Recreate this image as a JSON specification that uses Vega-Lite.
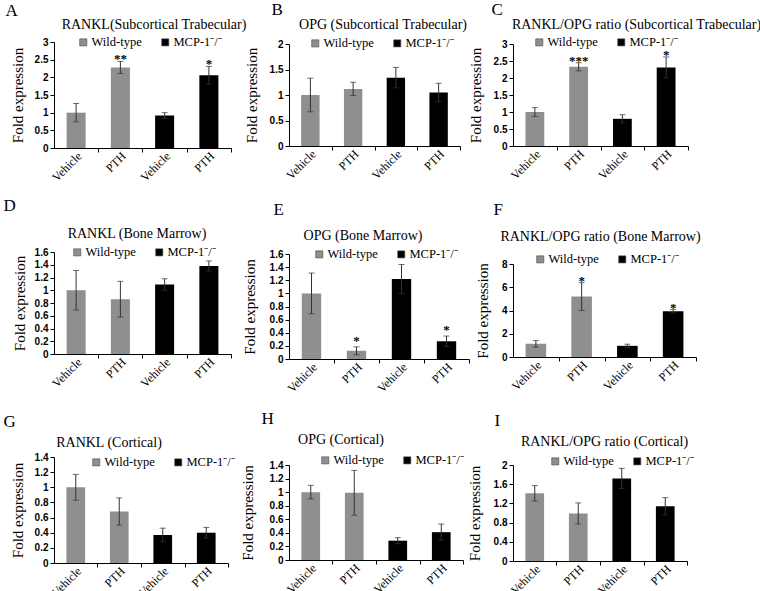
{
  "$schema": "https://vega.github.io/schema/vega-lite/v6.json",
  "padding": {"left": 3, "top": 0, "right": 0, "bottom": 0},
  "background": "white",
  "datasets": {
    "d": [
      {"p": "A", "k": "WT Vehicle", "g": "Wild-type", "v": 1.0, "lo": 0.74, "hi": 1.26, "s": ""},
      {"p": "A", "k": "WT PTH", "g": "Wild-type", "v": 2.28, "lo": 2.11, "hi": 2.45, "s": "**"},
      {"p": "A", "k": "KO Vehicle", "g": "MCP-1\u207b/\u207b", "v": 0.92, "lo": 0.84, "hi": 1.0, "s": ""},
      {"p": "A", "k": "KO PTH", "g": "MCP-1\u207b/\u207b", "v": 2.06, "lo": 1.81, "hi": 2.31, "s": "*"},
      {"p": "B", "k": "WT Vehicle", "g": "Wild-type", "v": 1.0, "lo": 0.67, "hi": 1.33, "s": ""},
      {"p": "B", "k": "WT PTH", "g": "Wild-type", "v": 1.12, "lo": 0.99, "hi": 1.25, "s": ""},
      {"p": "B", "k": "KO Vehicle", "g": "MCP-1\u207b/\u207b", "v": 1.34, "lo": 1.14, "hi": 1.54, "s": ""},
      {"p": "B", "k": "KO PTH", "g": "MCP-1\u207b/\u207b", "v": 1.05, "lo": 0.87, "hi": 1.23, "s": ""},
      {"p": "C", "k": "WT Vehicle", "g": "Wild-type", "v": 1.0, "lo": 0.87, "hi": 1.13, "s": ""},
      {"p": "C", "k": "WT PTH", "g": "Wild-type", "v": 2.33, "lo": 2.21, "hi": 2.45, "s": "***"},
      {"p": "C", "k": "KO Vehicle", "g": "MCP-1\u207b/\u207b", "v": 0.8, "lo": 0.68, "hi": 0.92, "s": ""},
      {"p": "C", "k": "KO PTH", "g": "MCP-1\u207b/\u207b", "v": 2.31, "lo": 2.0, "hi": 2.62, "s": "*"},
      {"p": "D", "k": "WT Vehicle", "g": "Wild-type", "v": 1.0, "lo": 0.69, "hi": 1.31, "s": ""},
      {"p": "D", "k": "WT PTH", "g": "Wild-type", "v": 0.86, "lo": 0.58, "hi": 1.14, "s": ""},
      {"p": "D", "k": "KO Vehicle", "g": "MCP-1\u207b/\u207b", "v": 1.09, "lo": 1.0, "hi": 1.18, "s": ""},
      {"p": "D", "k": "KO PTH", "g": "MCP-1\u207b/\u207b", "v": 1.38, "lo": 1.3, "hi": 1.46, "s": ""},
      {"p": "E", "k": "WT Vehicle", "g": "Wild-type", "v": 1.0, "lo": 0.69, "hi": 1.31, "s": ""},
      {"p": "E", "k": "WT PTH", "g": "Wild-type", "v": 0.125, "lo": 0.065, "hi": 0.185, "s": "*"},
      {"p": "E", "k": "KO Vehicle", "g": "MCP-1\u207b/\u207b", "v": 1.22, "lo": 1.0, "hi": 1.44, "s": ""},
      {"p": "E", "k": "KO PTH", "g": "MCP-1\u207b/\u207b", "v": 0.27, "lo": 0.19, "hi": 0.35, "s": "*"},
      {"p": "F", "k": "WT Vehicle", "g": "Wild-type", "v": 1.13, "lo": 0.85, "hi": 1.41, "s": ""},
      {"p": "F", "k": "WT PTH", "g": "Wild-type", "v": 5.2, "lo": 4.0, "hi": 6.4, "s": "*"},
      {"p": "F", "k": "KO Vehicle", "g": "MCP-1\u207b/\u207b", "v": 0.96, "lo": 0.82, "hi": 1.1, "s": ""},
      {"p": "F", "k": "KO PTH", "g": "MCP-1\u207b/\u207b", "v": 3.93, "lo": 3.78, "hi": 4.08, "s": "*"},
      {"p": "G", "k": "WT Vehicle", "g": "Wild-type", "v": 1.0, "lo": 0.83, "hi": 1.17, "s": ""},
      {"p": "G", "k": "WT PTH", "g": "Wild-type", "v": 0.68, "lo": 0.5, "hi": 0.86, "s": ""},
      {"p": "G", "k": "KO Vehicle", "g": "MCP-1\u207b/\u207b", "v": 0.37, "lo": 0.28, "hi": 0.46, "s": ""},
      {"p": "G", "k": "KO PTH", "g": "MCP-1\u207b/\u207b", "v": 0.4, "lo": 0.33, "hi": 0.47, "s": ""},
      {"p": "H", "k": "WT Vehicle", "g": "Wild-type", "v": 1.0, "lo": 0.9, "hi": 1.1, "s": ""},
      {"p": "H", "k": "WT PTH", "g": "Wild-type", "v": 0.99, "lo": 0.66, "hi": 1.32, "s": ""},
      {"p": "H", "k": "KO Vehicle", "g": "MCP-1\u207b/\u207b", "v": 0.285, "lo": 0.24, "hi": 0.33, "s": ""},
      {"p": "H", "k": "KO PTH", "g": "MCP-1\u207b/\u207b", "v": 0.41, "lo": 0.29, "hi": 0.53, "s": ""},
      {"p": "I", "k": "WT Vehicle", "g": "Wild-type", "v": 1.41, "lo": 1.25, "hi": 1.57, "s": ""},
      {"p": "I", "k": "WT PTH", "g": "Wild-type", "v": 0.99, "lo": 0.77, "hi": 1.21, "s": ""},
      {"p": "I", "k": "KO Vehicle", "g": "MCP-1\u207b/\u207b", "v": 1.72, "lo": 1.51, "hi": 1.93, "s": ""},
      {"p": "I", "k": "KO PTH", "g": "MCP-1\u207b/\u207b", "v": 1.14, "lo": 0.96, "hi": 1.32, "s": ""}
    ]
  },
  "data": {"name": "d"},
  "columns": 3,
  "spacing": {"row": 0, "column": 0},
  "bounds": "flush",
  "align": "none",
  "concat": [
    {
      "width": 234, "height": 148,
      "transform": [{"filter": "datum.p == 'A'"}],
      "layer": [
        {"mark": "bar", "encoding": {
          "x": {"field": "k", "type": "nominal", "sort": null, "scale": {"domain": ["WT Vehicle", "WT PTH", "KO Vehicle", "KO PTH"], "range": [0, 177], "paddingInner": 0.57, "paddingOuter": 0.285}, "axis": {"orient": "bottom", "title": null, "ticks": false, "domain": true, "domainColor": "#000000", "domainWidth": 1, "zindex": 2, "labelExpr": "indexof(datum.label, 'PTH') >= 0 ? 'PTH' : 'Vehicle'"}},
          "y": {"field": "v", "type": "quantitative", "scale": {"domain": [0, 3], "range": [148, 42], "nice": false, "zero": true}, "axis": {"values": [0, 0.5, 1, 1.5, 2, 2.5, 3], "tickCount": 20, "format": "~g", "labelOverlap": false, "domain": true, "ticks": true, "domainColor": "#000000", "tickColor": "#000000", "domainWidth": 1, "tickWidth": 1, "zindex": 2, "title": "Fold expression", "titleX": -29}},
          "color": {"field": "g", "type": "nominal", "scale": {"domain": ["Wild-type", "MCP-1\u207b/\u207b"], "range": ["#8f8f8f", "#000000"]}, "legend": {"title": null, "legendX": 23, "legendY": 36}}}},
        {"mark": {"type": "rule", "color": "#333333"}, "encoding": {
          "x": {"field": "k", "type": "nominal", "sort": null, "axis": {"orient": "top", "labels": false, "ticks": false, "domain": false, "title": "RANKL(Subcortical Trabecular)", "titleX": 99.5, "titleY": 24, "titleAlign": "center", "titleBaseline": "middle", "titleFontSize": 14, "titleLimit": 1000}},
          "y": {"field": "lo", "type": "quantitative"},
          "y2": {"field": "hi"}}},
        {"mark": {"type": "tick", "color": "#333333", "size": 6, "thickness": 1, "orient": "horizontal"}, "encoding": {
          "x": {"field": "k", "type": "nominal", "sort": null, "axis": null},
          "y": {"field": "hi", "type": "quantitative"}}},
        {"mark": {"type": "tick", "color": "#333333", "size": 6, "thickness": 1, "orient": "horizontal"}, "encoding": {
          "x": {"field": "k", "type": "nominal", "sort": null, "axis": {"orient": "bottom", "labels": false, "domain": false, "ticks": true, "tickColor": "#000000", "tickWidth": 1, "zindex": 2, "tickOffset": 22.1, "title": null}},
          "y": {"field": "lo", "type": "quantitative"}}},
        {"mark": {"type": "text", "baseline": "alphabetic", "dy": 2, "fontSize": 13, "fontWeight": "bold", "color": "#000000", "fill": "#000000"}, "encoding": {
          "x": {"field": "k", "type": "nominal", "sort": null, "axis": {"orient": "top", "labels": false, "ticks": false, "domain": false, "title": "A", "titleX": -49, "titleY": 10, "titleAlign": "left", "titleBaseline": "middle", "titleFontSize": 17}},
          "y": {"field": "hi", "type": "quantitative"},
          "text": {"field": "s"}}}
      ],
      "resolve": {"axis": {"x": "independent"}}
    },
    {
      "width": 224, "height": 146,
      "transform": [{"filter": "datum.p == 'B'"}],
      "layer": [
        {"mark": "bar", "encoding": {
          "x": {"field": "k", "type": "nominal", "sort": null, "scale": {"domain": ["WT Vehicle", "WT PTH", "KO Vehicle", "KO PTH"], "range": [0, 171], "paddingInner": 0.57, "paddingOuter": 0.285}, "axis": {"orient": "bottom", "title": null, "ticks": false, "domain": true, "domainColor": "#000000", "domainWidth": 1, "zindex": 2, "labelExpr": "indexof(datum.label, 'PTH') >= 0 ? 'PTH' : 'Vehicle'"}},
          "y": {"field": "v", "type": "quantitative", "scale": {"domain": [0, 2], "range": [146, 44], "nice": false, "zero": true}, "axis": {"values": [0, 0.5, 1, 1.5, 2], "tickCount": 20, "format": "~g", "labelOverlap": false, "domain": true, "ticks": true, "domainColor": "#000000", "tickColor": "#000000", "domainWidth": 1, "tickWidth": 1, "zindex": 2, "title": "Fold expression", "titleX": -30}},
          "color": {"field": "g", "type": "nominal", "scale": {"domain": ["Wild-type", "MCP-1\u207b/\u207b"], "range": ["#8f8f8f", "#000000"]}, "legend": {"title": null, "legendX": 20, "legendY": 37}}}},
        {"mark": {"type": "rule", "color": "#333333"}, "encoding": {
          "x": {"field": "k", "type": "nominal", "sort": null, "axis": {"orient": "top", "labels": false, "ticks": false, "domain": false, "title": "OPG (Subcortical Trabecular)", "titleX": 93.5, "titleY": 24, "titleAlign": "center", "titleBaseline": "middle", "titleFontSize": 14, "titleLimit": 1000}},
          "y": {"field": "lo", "type": "quantitative"},
          "y2": {"field": "hi"}}},
        {"mark": {"type": "tick", "color": "#333333", "size": 6, "thickness": 1, "orient": "horizontal"}, "encoding": {
          "x": {"field": "k", "type": "nominal", "sort": null, "axis": null},
          "y": {"field": "hi", "type": "quantitative"}}},
        {"mark": {"type": "tick", "color": "#333333", "size": 6, "thickness": 1, "orient": "horizontal"}, "encoding": {
          "x": {"field": "k", "type": "nominal", "sort": null, "axis": {"orient": "bottom", "labels": false, "domain": false, "ticks": true, "tickColor": "#000000", "tickWidth": 1, "zindex": 2, "tickOffset": 21.4, "title": null}},
          "y": {"field": "lo", "type": "quantitative"}}},
        {"mark": {"type": "text", "baseline": "alphabetic", "dy": 2, "fontSize": 13, "fontWeight": "bold", "color": "#000000", "fill": "#000000"}, "encoding": {
          "x": {"field": "k", "type": "nominal", "sort": null, "axis": {"orient": "top", "labels": false, "ticks": false, "domain": false, "title": "B", "titleX": -18, "titleY": 9, "titleAlign": "left", "titleBaseline": "middle", "titleFontSize": 17}},
          "y": {"field": "hi", "type": "quantitative"},
          "text": {"field": "s"}}}
      ],
      "resolve": {"axis": {"x": "independent"}}
    },
    {
      "width": 250, "height": 146,
      "transform": [{"filter": "datum.p == 'C'"}],
      "layer": [
        {"mark": "bar", "encoding": {
          "x": {"field": "k", "type": "nominal", "sort": null, "scale": {"domain": ["WT Vehicle", "WT PTH", "KO Vehicle", "KO PTH"], "range": [0, 175], "paddingInner": 0.57, "paddingOuter": 0.285}, "axis": {"orient": "bottom", "title": null, "ticks": false, "domain": true, "domainColor": "#000000", "domainWidth": 1, "zindex": 2, "labelExpr": "indexof(datum.label, 'PTH') >= 0 ? 'PTH' : 'Vehicle'"}},
          "y": {"field": "v", "type": "quantitative", "scale": {"domain": [0, 3], "range": [146, 44], "nice": false, "zero": true}, "axis": {"values": [0, 0.5, 1, 1.5, 2, 2.5, 3], "tickCount": 20, "format": "~g", "labelOverlap": false, "domain": true, "ticks": true, "domainColor": "#000000", "tickColor": "#000000", "domainWidth": 1, "tickWidth": 1, "zindex": 2, "title": "Fold expression", "titleX": -30}},
          "color": {"field": "g", "type": "nominal", "scale": {"domain": ["Wild-type", "MCP-1\u207b/\u207b"], "range": ["#8f8f8f", "#000000"]}, "legend": {"title": null, "legendX": 20, "legendY": 36}}}},
        {"mark": {"type": "rule", "color": "#333333"}, "encoding": {
          "x": {"field": "k", "type": "nominal", "sort": null, "axis": {"orient": "top", "labels": false, "ticks": false, "domain": false, "title": "RANKL/OPG ratio (Subcortical Trabecular)", "titleX": 123, "titleY": 24, "titleAlign": "center", "titleBaseline": "middle", "titleFontSize": 14, "titleLimit": 1000}},
          "y": {"field": "lo", "type": "quantitative"},
          "y2": {"field": "hi"}}},
        {"mark": {"type": "tick", "color": "#333333", "size": 6, "thickness": 1, "orient": "horizontal"}, "encoding": {
          "x": {"field": "k", "type": "nominal", "sort": null, "axis": null},
          "y": {"field": "hi", "type": "quantitative"}}},
        {"mark": {"type": "tick", "color": "#333333", "size": 6, "thickness": 1, "orient": "horizontal"}, "encoding": {
          "x": {"field": "k", "type": "nominal", "sort": null, "axis": {"orient": "bottom", "labels": false, "domain": false, "ticks": true, "tickColor": "#000000", "tickWidth": 1, "zindex": 2, "tickOffset": 21.9, "title": null}},
          "y": {"field": "lo", "type": "quantitative"}}},
        {"mark": {"type": "text", "baseline": "alphabetic", "dy": 2, "fontSize": 13, "fontWeight": "bold", "color": "#000000", "fill": "#000000"}, "encoding": {
          "x": {"field": "k", "type": "nominal", "sort": null, "axis": {"orient": "top", "labels": false, "ticks": false, "domain": false, "title": "C", "titleX": -22, "titleY": 9, "titleAlign": "left", "titleBaseline": "middle", "titleFontSize": 17}},
          "y": {"field": "hi", "type": "quantitative"},
          "text": {"field": "s"}}}
      ],
      "resolve": {"axis": {"x": "independent"}}
    },
    {
      "width": 235, "height": 206,
      "transform": [{"filter": "datum.p == 'D'"}],
      "layer": [
        {"mark": "bar", "encoding": {
          "x": {"field": "k", "type": "nominal", "sort": null, "scale": {"domain": ["WT Vehicle", "WT PTH", "KO Vehicle", "KO PTH"], "range": [0, 177], "paddingInner": 0.57, "paddingOuter": 0.285}, "axis": {"orient": "bottom", "title": null, "ticks": false, "domain": true, "domainColor": "#000000", "domainWidth": 1, "zindex": 2, "labelExpr": "indexof(datum.label, 'PTH') >= 0 ? 'PTH' : 'Vehicle'"}},
          "y": {"field": "v", "type": "quantitative", "scale": {"domain": [0, 1.6], "range": [206, 104], "nice": false, "zero": true}, "axis": {"values": [0, 0.2, 0.4, 0.6, 0.8, 1, 1.2, 1.4, 1.6], "tickCount": 20, "format": "~g", "labelOverlap": false, "domain": true, "ticks": true, "domainColor": "#000000", "tickColor": "#000000", "domainWidth": 1, "tickWidth": 1, "zindex": 2, "title": "Fold expression", "titleX": -27}},
          "color": {"field": "g", "type": "nominal", "scale": {"domain": ["Wild-type", "MCP-1\u207b/\u207b"], "range": ["#8f8f8f", "#000000"]}, "legend": {"title": null, "legendX": 17, "legendY": 98}}}},
        {"mark": {"type": "rule", "color": "#333333"}, "encoding": {
          "x": {"field": "k", "type": "nominal", "sort": null, "axis": {"orient": "top", "labels": false, "ticks": false, "domain": false, "title": "RANKL (Bone Marrow)", "titleX": 82.5, "titleY": 85, "titleAlign": "center", "titleBaseline": "middle", "titleFontSize": 14, "titleLimit": 1000}},
          "y": {"field": "lo", "type": "quantitative"},
          "y2": {"field": "hi"}}},
        {"mark": {"type": "tick", "color": "#333333", "size": 6, "thickness": 1, "orient": "horizontal"}, "encoding": {
          "x": {"field": "k", "type": "nominal", "sort": null, "axis": null},
          "y": {"field": "hi", "type": "quantitative"}}},
        {"mark": {"type": "tick", "color": "#333333", "size": 6, "thickness": 1, "orient": "horizontal"}, "encoding": {
          "x": {"field": "k", "type": "nominal", "sort": null, "axis": {"orient": "bottom", "labels": false, "domain": false, "ticks": true, "tickColor": "#000000", "tickWidth": 1, "zindex": 2, "tickOffset": 22.1, "title": null}},
          "y": {"field": "lo", "type": "quantitative"}}},
        {"mark": {"type": "text", "baseline": "alphabetic", "dy": 2, "fontSize": 13, "fontWeight": "bold", "color": "#000000", "fill": "#000000"}, "encoding": {
          "x": {"field": "k", "type": "nominal", "sort": null, "axis": {"orient": "top", "labels": false, "ticks": false, "domain": false, "title": "D", "titleX": -51, "titleY": 57, "titleAlign": "left", "titleBaseline": "middle", "titleFontSize": 17}},
          "y": {"field": "hi", "type": "quantitative"},
          "text": {"field": "s"}}}
      ],
      "resolve": {"axis": {"x": "independent"}}
    },
    {
      "width": 223, "height": 211,
      "transform": [{"filter": "datum.p == 'E'"}],
      "layer": [
        {"mark": "bar", "encoding": {
          "x": {"field": "k", "type": "nominal", "sort": null, "scale": {"domain": ["WT Vehicle", "WT PTH", "KO Vehicle", "KO PTH"], "range": [0, 180], "paddingInner": 0.57, "paddingOuter": 0.285}, "axis": {"orient": "bottom", "title": null, "ticks": false, "domain": true, "domainColor": "#000000", "domainWidth": 1, "zindex": 2, "labelExpr": "indexof(datum.label, 'PTH') >= 0 ? 'PTH' : 'Vehicle'"}},
          "y": {"field": "v", "type": "quantitative", "scale": {"domain": [0, 1.6], "range": [211, 106], "nice": false, "zero": true}, "axis": {"values": [0, 0.2, 0.4, 0.6, 0.8, 1, 1.2, 1.4, 1.6], "tickCount": 20, "format": "~g", "labelOverlap": false, "domain": true, "ticks": true, "domainColor": "#000000", "tickColor": "#000000", "domainWidth": 1, "tickWidth": 1, "zindex": 2, "title": "Fold expression", "titleX": -32}},
          "color": {"field": "g", "type": "nominal", "scale": {"domain": ["Wild-type", "MCP-1\u207b/\u207b"], "range": ["#8f8f8f", "#000000"]}, "legend": {"title": null, "legendX": 24, "legendY": 100}}}},
        {"mark": {"type": "rule", "color": "#333333"}, "encoding": {
          "x": {"field": "k", "type": "nominal", "sort": null, "axis": {"orient": "top", "labels": false, "ticks": false, "domain": false, "title": "OPG (Bone Marrow)", "titleX": 73.5, "titleY": 87, "titleAlign": "center", "titleBaseline": "middle", "titleFontSize": 14, "titleLimit": 1000}},
          "y": {"field": "lo", "type": "quantitative"},
          "y2": {"field": "hi"}}},
        {"mark": {"type": "tick", "color": "#333333", "size": 6, "thickness": 1, "orient": "horizontal"}, "encoding": {
          "x": {"field": "k", "type": "nominal", "sort": null, "axis": null},
          "y": {"field": "hi", "type": "quantitative"}}},
        {"mark": {"type": "tick", "color": "#333333", "size": 6, "thickness": 1, "orient": "horizontal"}, "encoding": {
          "x": {"field": "k", "type": "nominal", "sort": null, "axis": {"orient": "bottom", "labels": false, "domain": false, "ticks": true, "tickColor": "#000000", "tickWidth": 1, "zindex": 2, "tickOffset": 22.5, "title": null}},
          "y": {"field": "lo", "type": "quantitative"}}},
        {"mark": {"type": "text", "baseline": "alphabetic", "dy": -2, "fontSize": 13, "fontWeight": "bold", "color": "#000000", "fill": "#000000"}, "encoding": {
          "x": {"field": "k", "type": "nominal", "sort": null, "axis": {"orient": "top", "labels": false, "ticks": false, "domain": false, "title": "E", "titleX": -16, "titleY": 61, "titleAlign": "left", "titleBaseline": "middle", "titleFontSize": 17}},
          "y": {"field": "hi", "type": "quantitative"},
          "text": {"field": "s"}}}
      ],
      "resolve": {"axis": {"x": "independent"}}
    },
    {
      "width": 250, "height": 209,
      "transform": [{"filter": "datum.p == 'F'"}],
      "layer": [
        {"mark": "bar", "encoding": {
          "x": {"field": "k", "type": "nominal", "sort": null, "scale": {"domain": ["WT Vehicle", "WT PTH", "KO Vehicle", "KO PTH"], "range": [0, 183], "paddingInner": 0.55, "paddingOuter": 0.275}, "axis": {"orient": "bottom", "title": null, "ticks": false, "domain": true, "domainColor": "#000000", "domainWidth": 1, "zindex": 2, "labelExpr": "indexof(datum.label, 'PTH') >= 0 ? 'PTH' : 'Vehicle'"}},
          "y": {"field": "v", "type": "quantitative", "scale": {"domain": [0, 8], "range": [209, 116], "nice": false, "zero": true}, "axis": {"values": [0, 2, 4, 6, 8], "tickCount": 20, "format": "~g", "labelOverlap": false, "domain": true, "ticks": true, "domainColor": "#000000", "tickColor": "#000000", "domainWidth": 1, "tickWidth": 1, "zindex": 2, "title": "Fold expression", "titleX": -23}},
          "color": {"field": "g", "type": "nominal", "scale": {"domain": ["Wild-type", "MCP-1\u207b/\u207b"], "range": ["#8f8f8f", "#000000"]}, "legend": {"title": null, "legendX": 21, "legendY": 105}}}},
        {"mark": {"type": "rule", "color": "#333333"}, "encoding": {
          "x": {"field": "k", "type": "nominal", "sort": null, "axis": {"orient": "top", "labels": false, "ticks": false, "domain": false, "title": "RANKL/OPG ratio (Bone Marrow)", "titleX": 87, "titleY": 88, "titleAlign": "center", "titleBaseline": "middle", "titleFontSize": 14, "titleLimit": 1000}},
          "y": {"field": "lo", "type": "quantitative"},
          "y2": {"field": "hi"}}},
        {"mark": {"type": "tick", "color": "#333333", "size": 6, "thickness": 1, "orient": "horizontal"}, "encoding": {
          "x": {"field": "k", "type": "nominal", "sort": null, "axis": null},
          "y": {"field": "hi", "type": "quantitative"}}},
        {"mark": {"type": "tick", "color": "#333333", "size": 6, "thickness": 1, "orient": "horizontal"}, "encoding": {
          "x": {"field": "k", "type": "nominal", "sort": null, "axis": {"orient": "bottom", "labels": false, "domain": false, "ticks": true, "tickColor": "#000000", "tickWidth": 1, "zindex": 2, "tickOffset": 22.9, "title": null}},
          "y": {"field": "lo", "type": "quantitative"}}},
        {"mark": {"type": "text", "baseline": "alphabetic", "dy": 2, "fontSize": 13, "fontWeight": "bold", "color": "#000000", "fill": "#000000"}, "encoding": {
          "x": {"field": "k", "type": "nominal", "sort": null, "axis": {"orient": "top", "labels": false, "ticks": false, "domain": false, "title": "F", "titleX": -20, "titleY": 61, "titleAlign": "left", "titleBaseline": "middle", "titleFontSize": 17}},
          "y": {"field": "hi", "type": "quantitative"},
          "text": {"field": "s"}}}
      ],
      "resolve": {"axis": {"x": "independent"}}
    },
    {
      "width": 234, "height": 204,
      "transform": [{"filter": "datum.p == 'G'"}],
      "layer": [
        {"mark": "bar", "encoding": {
          "x": {"field": "k", "type": "nominal", "sort": null, "scale": {"domain": ["WT Vehicle", "WT PTH", "KO Vehicle", "KO PTH"], "range": [0, 174], "paddingInner": 0.57, "paddingOuter": 0.285}, "axis": {"orient": "bottom", "title": null, "ticks": false, "domain": true, "domainColor": "#000000", "domainWidth": 1, "zindex": 2, "labelExpr": "indexof(datum.label, 'PTH') >= 0 ? 'PTH' : 'Vehicle'"}},
          "y": {"field": "v", "type": "quantitative", "scale": {"domain": [0, 1.4], "range": [204, 98], "nice": false, "zero": true}, "axis": {"values": [0, 0.2, 0.4, 0.6, 0.8, 1, 1.2, 1.4], "tickCount": 20, "format": "~g", "labelOverlap": false, "domain": true, "ticks": true, "domainColor": "#000000", "tickColor": "#000000", "domainWidth": 1, "tickWidth": 1, "zindex": 2, "title": "Fold expression", "titleX": -29}},
          "color": {"field": "g", "type": "nominal", "scale": {"domain": ["Wild-type", "MCP-1\u207b/\u207b"], "range": ["#8f8f8f", "#000000"]}, "legend": {"title": null, "legendX": 36, "legendY": 97}}}},
        {"mark": {"type": "rule", "color": "#333333"}, "encoding": {
          "x": {"field": "k", "type": "nominal", "sort": null, "axis": {"orient": "top", "labels": false, "ticks": false, "domain": false, "title": "RANKL (Cortical)", "titleX": 54.5, "titleY": 83.5, "titleAlign": "center", "titleBaseline": "middle", "titleFontSize": 14, "titleLimit": 1000}},
          "y": {"field": "lo", "type": "quantitative"},
          "y2": {"field": "hi"}}},
        {"mark": {"type": "tick", "color": "#333333", "size": 6, "thickness": 1, "orient": "horizontal"}, "encoding": {
          "x": {"field": "k", "type": "nominal", "sort": null, "axis": null},
          "y": {"field": "hi", "type": "quantitative"}}},
        {"mark": {"type": "tick", "color": "#333333", "size": 6, "thickness": 1, "orient": "horizontal"}, "encoding": {
          "x": {"field": "k", "type": "nominal", "sort": null, "axis": {"orient": "bottom", "labels": false, "domain": false, "ticks": true, "tickColor": "#000000", "tickWidth": 1, "zindex": 2, "tickOffset": 21.75, "title": null}},
          "y": {"field": "lo", "type": "quantitative"}}},
        {"mark": {"type": "text", "baseline": "alphabetic", "dy": 2, "fontSize": 13, "fontWeight": "bold", "color": "#000000", "fill": "#000000"}, "encoding": {
          "x": {"field": "k", "type": "nominal", "sort": null, "axis": {"orient": "top", "labels": false, "ticks": false, "domain": false, "title": "G", "titleX": -51, "titleY": 62, "titleAlign": "left", "titleBaseline": "middle", "titleFontSize": 17}},
          "y": {"field": "hi", "type": "quantitative"},
          "text": {"field": "s"}}}
      ],
      "resolve": {"axis": {"x": "independent"}}
    },
    {
      "width": 221, "height": 201,
      "transform": [{"filter": "datum.p == 'H'"}],
      "layer": [
        {"mark": "bar", "encoding": {
          "x": {"field": "k", "type": "nominal", "sort": null, "scale": {"domain": ["WT Vehicle", "WT PTH", "KO Vehicle", "KO PTH"], "range": [0, 174], "paddingInner": 0.57, "paddingOuter": 0.285}, "axis": {"orient": "bottom", "title": null, "ticks": false, "domain": true, "domainColor": "#000000", "domainWidth": 1, "zindex": 2, "labelExpr": "indexof(datum.label, 'PTH') >= 0 ? 'PTH' : 'Vehicle'"}},
          "y": {"field": "v", "type": "quantitative", "scale": {"domain": [0, 1.4], "range": [201, 106], "nice": false, "zero": true}, "axis": {"values": [0, 0.2, 0.4, 0.6, 0.8, 1, 1.2, 1.4], "tickCount": 20, "format": "~g", "labelOverlap": false, "domain": true, "ticks": true, "domainColor": "#000000", "tickColor": "#000000", "domainWidth": 1, "tickWidth": 1, "zindex": 2, "title": "Fold expression", "titleX": -34}},
          "color": {"field": "g", "type": "nominal", "scale": {"domain": ["Wild-type", "MCP-1\u207b/\u207b"], "range": ["#8f8f8f", "#000000"]}, "legend": {"title": null, "legendX": 30, "legendY": 95}}}},
        {"mark": {"type": "rule", "color": "#333333"}, "encoding": {
          "x": {"field": "k", "type": "nominal", "sort": null, "axis": {"orient": "top", "labels": false, "ticks": false, "domain": false, "title": "OPG (Cortical)", "titleX": 51.5, "titleY": 80.5, "titleAlign": "center", "titleBaseline": "middle", "titleFontSize": 14, "titleLimit": 1000}},
          "y": {"field": "lo", "type": "quantitative"},
          "y2": {"field": "hi"}}},
        {"mark": {"type": "tick", "color": "#333333", "size": 6, "thickness": 1, "orient": "horizontal"}, "encoding": {
          "x": {"field": "k", "type": "nominal", "sort": null, "axis": null},
          "y": {"field": "hi", "type": "quantitative"}}},
        {"mark": {"type": "tick", "color": "#333333", "size": 6, "thickness": 1, "orient": "horizontal"}, "encoding": {
          "x": {"field": "k", "type": "nominal", "sort": null, "axis": {"orient": "bottom", "labels": false, "domain": false, "ticks": true, "tickColor": "#000000", "tickWidth": 1, "zindex": 2, "tickOffset": 21.75, "title": null}},
          "y": {"field": "lo", "type": "quantitative"}}},
        {"mark": {"type": "text", "baseline": "alphabetic", "dy": 2, "fontSize": 13, "fontWeight": "bold", "color": "#000000", "fill": "#000000"}, "encoding": {
          "x": {"field": "k", "type": "nominal", "sort": null, "axis": {"orient": "top", "labels": false, "ticks": false, "domain": false, "title": "H", "titleX": -28, "titleY": 59, "titleAlign": "left", "titleBaseline": "middle", "titleFontSize": 17}},
          "y": {"field": "hi", "type": "quantitative"},
          "text": {"field": "s"}}}
      ],
      "resolve": {"axis": {"x": "independent"}}
    },
    {
      "width": 250, "height": 202,
      "transform": [{"filter": "datum.p == 'I'"}],
      "layer": [
        {"mark": "bar", "encoding": {
          "x": {"field": "k", "type": "nominal", "sort": null, "scale": {"domain": ["WT Vehicle", "WT PTH", "KO Vehicle", "KO PTH"], "range": [0, 174], "paddingInner": 0.57, "paddingOuter": 0.285}, "axis": {"orient": "bottom", "title": null, "ticks": false, "domain": true, "domainColor": "#000000", "domainWidth": 1, "zindex": 2, "labelExpr": "indexof(datum.label, 'PTH') >= 0 ? 'PTH' : 'Vehicle'"}},
          "y": {"field": "v", "type": "quantitative", "scale": {"domain": [0, 2], "range": [202, 106], "nice": false, "zero": true}, "axis": {"values": [0, 0.4, 0.8, 1.2, 1.6, 2], "tickCount": 20, "format": "~g", "labelOverlap": false, "domain": true, "ticks": true, "domainColor": "#000000", "tickColor": "#000000", "domainWidth": 1, "tickWidth": 1, "zindex": 2, "title": "Fold expression", "titleX": -31}},
          "color": {"field": "g", "type": "nominal", "scale": {"domain": ["Wild-type", "MCP-1\u207b/\u207b"], "range": ["#8f8f8f", "#000000"]}, "legend": {"title": null, "legendX": 36, "legendY": 96}}}},
        {"mark": {"type": "rule", "color": "#333333"}, "encoding": {
          "x": {"field": "k", "type": "nominal", "sort": null, "axis": {"orient": "top", "labels": false, "ticks": false, "domain": false, "title": "RANKL/OPG ratio (Cortical)", "titleX": 91, "titleY": 82, "titleAlign": "center", "titleBaseline": "middle", "titleFontSize": 14, "titleLimit": 1000}},
          "y": {"field": "lo", "type": "quantitative"},
          "y2": {"field": "hi"}}},
        {"mark": {"type": "tick", "color": "#333333", "size": 6, "thickness": 1, "orient": "horizontal"}, "encoding": {
          "x": {"field": "k", "type": "nominal", "sort": null, "axis": null},
          "y": {"field": "hi", "type": "quantitative"}}},
        {"mark": {"type": "tick", "color": "#333333", "size": 6, "thickness": 1, "orient": "horizontal"}, "encoding": {
          "x": {"field": "k", "type": "nominal", "sort": null, "axis": {"orient": "bottom", "labels": false, "domain": false, "ticks": true, "tickColor": "#000000", "tickWidth": 1, "zindex": 2, "tickOffset": 21.75, "title": null}},
          "y": {"field": "lo", "type": "quantitative"}}},
        {"mark": {"type": "text", "baseline": "alphabetic", "dy": 2, "fontSize": 13, "fontWeight": "bold", "color": "#000000", "fill": "#000000"}, "encoding": {
          "x": {"field": "k", "type": "nominal", "sort": null, "axis": {"orient": "top", "labels": false, "ticks": false, "domain": false, "title": "I", "titleX": -19, "titleY": 61, "titleAlign": "left", "titleBaseline": "middle", "titleFontSize": 17}},
          "y": {"field": "hi", "type": "quantitative"},
          "text": {"field": "s"}}}
      ],
      "resolve": {"axis": {"x": "independent"}}
    }
  ],
  "resolve": {"legend": {"color": "independent"}},
  "config": {
    "font": "Liberation Serif",
    "view": {"stroke": null},
    "axis": {
      "grid": false,
      "domainColor": "#000000",
      "tickColor": "#000000",
      "labelColor": "#000000",
      "titleColor": "#000000",
      "titleFont": "Liberation Serif",
      "titleFontWeight": "normal",
      "tickSize": 4,
      "labelPadding": 2
    },
    "axisY": {
      "labelFont": "Liberation Sans",
      "labelFontWeight": "bold",
      "labelFontSize": 10,
      "titleFontSize": 15
    },
    "axisX": {
      "labelFont": "Liberation Serif",
      "labelFontSize": 12,
      "labelAngle": -45
    },
    "legend": {
      "orient": "none",
      "direction": "horizontal",
      "columns": 2,
      "symbolType": "square",
      "symbolSize": 50,
      "symbolStrokeColor": "#444444",
      "symbolStrokeWidth": 0.6,
      "symbolOpacity": 1,
      "labelFont": "Liberation Serif",
      "labelFontSize": 12.5,
      "labelColor": "#000000",
      "labelOffset": 2,
      "columnPadding": 17
    }
  }
}
